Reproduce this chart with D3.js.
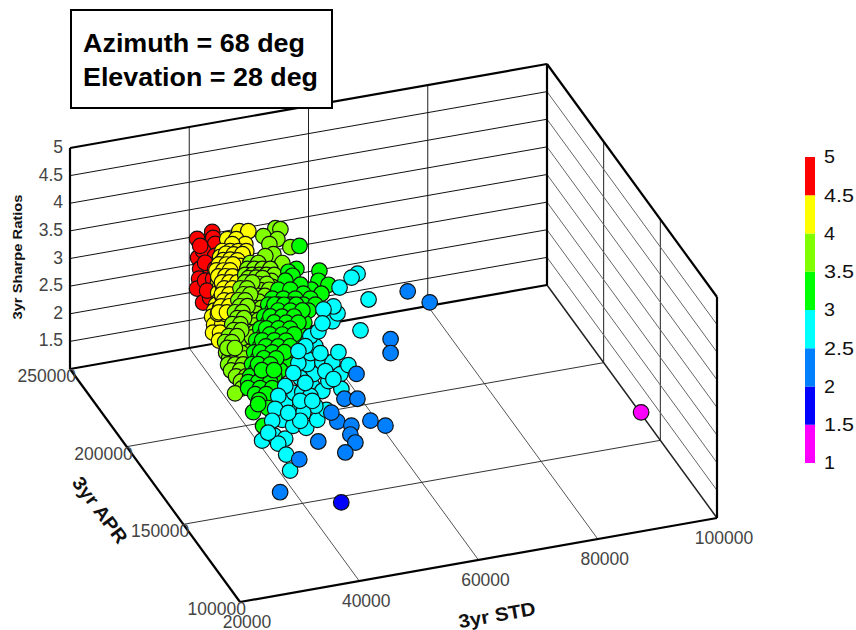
<!DOCTYPE html>
<html>
<head>
<meta charset="utf-8">
<script src="https://cdn.jsdelivr.net/npm/d3@7"></script>
<style>
  html,body{margin:0;padding:0;background:#fff;}
  text{font-family:"Liberation Sans",Arial,sans-serif;}
</style>
</head>
<body>
<div id="canvas"></div>
<script>
//axis ticks
var stdTicks = [20000,40000,60000,80000,100000];
var aprTicks = [100000,150000,200000,250000];
var sharpeTicks = [1,1.5,2,2.5,3,3.5,4,4.5,5];
var colorSteps = [1.5,2,2.5,3,3.5,4,4.5];
var colorList = ['#ff00ff','#0000ff','#0080ff','#00ffff','#00ff00','#80ff00','#ffff00','#ff0000'];

//values, one set per colour band
var redSharpe = 4.6;
var redStd = [31440,34430,33930,33580,29530,31040,28640,27410,26040,25420,30240,27000,28090,32280,30040,29500,27310,31130,30880];
var redApr = [197980,200430,196930,193320,187100,190560,180650,175080,169610,161060,180210,163190,173340,186510,183550,173660,167460,193700,179140];

var yellowSharpe = 4.2;
var yellowStd = [40930,42270,38280,39620,40420,38480,36240,37430,38620,39810,35290,36190,37380,38720,34940,35980,37020,38220,33850,34890,35930,37120,33500,34540,35590,36770,32410,33450,34490,35680,32050,33100,34290,35330,31110,32150,33190,34380,30750,31800,32990,29520,30710,31900,28560,29750,30940,27620,28810,30000,27050,28240,26030,27070,27250,26060,
  36500,37600,38900,35400,36500,37500,35200,36100,37300,34000,35200,36100,33600,34800,35700,32700,33600,34800,32200,33400,34400,31400,32300,33500,30900,32100,33100,29800,30900,32100,28800,29900,31200,
  34300,35400,36400,33300,34300,35300,32900,34000,35000,32800,33900,35100,32500,33700,31500,32600,31200,32400,30100,31300,29100,30300];
var yellowApr = [210740,209830,207420,206500,202750,204070,201120,200310,199500,198690,197930,197320,196510,195600,194310,193600,192900,192080,191220,190510,189800,188990,187600,186900,186190,185380,184500,183790,183080,182270,180900,180190,179380,178670,177690,176980,176270,175460,174090,173380,172570,171080,170270,169460,167880,167070,166260,164690,163880,163070,159940,159130,155500,154800,149550,150360,
  199200,198100,197300,195800,195400,194300,192400,191400,190900,189100,188600,187600,185400,185000,184000,182500,181600,181100,178800,178200,177200,175700,174800,174300,171900,171400,170400,169100,168100,167500,165800,164900,164300,
  193800,193000,192400,190700,189900,189300,187000,186400,185600,183200,182500,181700,179600,178800,176400,175700,172800,172000,169700,168900,166500,165700];

var limeSharpe = 3.75;
var limeStd = [49310,49950,46670,48420,46690,49490,46200,44790,46570,41810,43000,40720,41760,42950,44140,39770,40810,41850,42890,44080,39560,40610,41800,42990,38170,39210,40250,41440,42490,37980,39020,40210,41250,36580,37620,38670,39860,36230,37270,38460,34840,35880,36920,38110,34480,35530,36720,33090,34280,35320,32740,33780,34970,31350,32540,33730,30110,31150,32340,29760,30950,32140,28510,29550,30740,28310,29500,30540,27510,28550,29740,27300,28640,27400,28890,27550,28690,27000,25420,
  39900,41100,42000,39800,40800,42000,38300,39500,40400,41700,38100,39300,40400,36800,37800,38900,36400,37500,38600,35100,36000,37200,34600,35800,36900,33300,34400,35600,32900,34000,35100,31600,32700,34000,
  38900,40000,37600,38600,37400,38400,36000,37000,35600,36700,34200,35300,33900,34900,32500,33700,32100,33200,30700,31900,29500,30500,29200,30300];
var limeApr = [222980,221910,219670,216540,214510,210680,208430,208110,202420,205660,204850,202560,201850,201040,200230,199360,198650,197940,197230,196420,195650,194940,194130,193320,192750,192040,191330,190520,189810,189040,188330,187520,186810,186140,185440,184730,183920,182530,181820,181010,179640,178930,178220,177410,176030,175320,174510,173130,172320,171610,169530,168820,168010,166630,165820,165010,163630,162920,162110,160020,159210,158400,157020,156310,155500,153310,152500,151790,150010,149300,148490,146300,145390,142390,141380,138880,137660,134970,132850,
  197200,196700,195800,193700,192800,192100,190600,190000,189200,188500,186900,186300,185400,184100,183300,182700,180400,179800,178900,177600,176800,176200,173900,173300,172400,171100,170200,169600,167400,166800,165900,164600,163700,163000,
  195100,194400,192200,191500,188500,187800,185600,184900,182000,181300,179100,178400,175500,174800,172600,171800,169000,168300,166100,165300,163100,162400,159500,158700];

var greenSharpe = 3.25;
var greenStd = [53970,51030,49520,54240,53010,54060,50990,52050,49690,48100,49900,46080,47870,49370,44220,45860,47640,49870,42970,44460,46250,48180,49970,42920,44710,46490,48280,41080,42860,44650,46440,41020,42810,44600,46380,39190,40980,42770,44550,39140,40920,42710,44500,37300,39080,40870,42660,37240,39030,40820,42600,35700,37490,39270,41060,35650,37430,39220,41000,34100,35890,37670,39460,34060,35840,37630,32520,34300,36090,31570,33060,34840,30920,32700,34490,31310,32950,31260,31730,29070,29040,30680,
  43900,45300,47100,43800,45600,47400,42000,43700,45500,41900,43700,45500,40100,41900,43600,40000,41800,43600,38200,40000,41700,38100,39900,41700,36600,38400,40200,36500,38300,35000,36800,34900,36700];
var greenApr = [226230,213480,212590,210070,204440,201160,200050,196770,209910,207780,203990,203390,202180,198590,198890,197780,196560,195040,195890,194870,193660,192340,191120,192080,190860,189650,188430,189490,188280,187060,185840,185680,184460,183240,182030,183090,181870,180650,179440,179270,178060,176840,175620,176680,175470,174250,173030,172870,171650,170430,169220,170070,168860,167640,166430,166260,165040,163830,162610,163470,162250,161030,159820,159660,158450,157230,156860,155640,154430,153660,152650,151430,150250,149040,147820,146140,145030,142330,136890,136130,127170,140180,
  195300,194200,193000,191500,190200,189100,188900,187600,186500,185100,183800,182600,182500,181300,180000,178700,177400,176300,176100,174900,173600,172300,171000,169900,169500,168200,167100,165700,164400,162900,161600,159100,157900];

var cyanSharpe = 2.75;
var cyanStd = [62600,61270,58410,61420,56880,53690,55300,55460,53650,30300,32630,33940,32360,32360,31220,35550,36530,38250,40760,43180,41970,39430,38470,37830,40250,41550,43690,44630,45130,42770,45320,47770,49260,49150,47680,51310,51230,46960,48460,48790,50520,51980,46970,44090,42260,39670,37550,35690,33950,32060,38120,42310,40280,46610,47240,42070,37200,47570,42970,48440,45390];
var cyanApr = [220350,218690,214230,204490,187710,195650,199680,204060,203370,134650,136270,133460,131330,124280,114790,144540,140020,137570,141000,145760,149140,146390,152810,153880,158650,158400,160790,156940,167500,166550,173780,173400,172390,164770,156160,169060,177450,179720,183190,189370,191390,195530,184200,175260,170100,163530,158570,151490,144990,138580,142150,155320,153500,162010,167990,152280,147910,162640,163210,178710,182070];

var blueSharpe = 2.25;
var blueStd = [30380,54560,50070,52000,51560,53250,46540,48190,47070,46950,44380,41550,36780,63400,61890,46620,71120,73200];
var blueApr = [119210,179030,166060,164750,150950,146590,153720,150030,145030,139980,135320,144300,136010,195450,187500,159440,220960,212490];

var navySharpe = 1.75;
var navyStd = [41360];
var navyApr = [123020];

var pinkSharpe = 1.25;
var pinkStd = [98680];
var pinkApr = [160020];

var bands = [
  {sharpe:redSharpe, std:redStd, apr:redApr},
  {sharpe:yellowSharpe, std:yellowStd, apr:yellowApr},
  {sharpe:limeSharpe, std:limeStd, apr:limeApr},
  {sharpe:greenSharpe, std:greenStd, apr:greenApr},
  {sharpe:cyanSharpe, std:cyanStd, apr:cyanApr},
  {sharpe:blueSharpe, std:blueStd, apr:blueApr},
  {sharpe:navySharpe, std:navyStd, apr:navyApr},
  {sharpe:pinkSharpe, std:pinkStd, apr:pinkApr}
];

var points = [];
bands.forEach(function(b){
  b.std.forEach(function(s,i){
    points.push({std:s, apr:b.apr[i], sharpe:b.sharpe});
  });
});

var svg = d3.select('#canvas')
  .append('svg')
  .attr('width',856)
  .attr('height',630)
  .style('display','block');

//oblique box: each scale gives the pixel shift along one edge of the box
var stdX = d3.scaleLinear().domain([20000,100000]).range([0,477]),
    stdY = d3.scaleLinear().domain([20000,100000]).range([0,-84]),
    aprX = d3.scaleLinear().domain([100000,250000]).range([0,-170]),
    aprY = d3.scaleLinear().domain([100000,250000]).range([0,-233]),
    sharpeY = d3.scaleLinear().domain([1,5]).range([0,-221]);
var origin = {x:240,y:602};

function project(std,apr,sharpe){
  return [origin.x + stdX(std) + aprX(apr),
          origin.y + stdY(std) + aprY(apr) + sharpeY(sharpe)];
}

function edge(a,b,color,width){
  svg.append('line')
    .attr('x1',a[0]).attr('y1',a[1])
    .attr('x2',b[0]).attr('y2',b[1])
    .attr('stroke',color)
    .attr('stroke-width',width);
}

var s0 = 20000, s1 = 100000, a0 = 100000, a1 = 250000, z0 = 1, z1 = 5;

//grid on floor
stdTicks.slice(1,-1).forEach(function(t){
  edge(project(t,a0,z0),project(t,a1,z0),'#555',1);
});
aprTicks.slice(1,-1).forEach(function(t){
  edge(project(s0,t,z0),project(s1,t,z0),'#333',1);
});
//grid on back wall and right wall
stdTicks.slice(1,-1).forEach(function(t){
  edge(project(t,a1,z0),project(t,a1,z1),'#222',1);
});
aprTicks.slice(1,-1).forEach(function(t){
  edge(project(s1,t,z0),project(s1,t,z1),'#222',1);
});
sharpeTicks.slice(1,-1).forEach(function(t){
  edge(project(s0,a1,t),project(s1,a1,t),'#111',1);
  edge(project(s1,a1,t),project(s1,a0,t),'#666',1);
});

//box edges
edge(project(s1,a1,z0),project(s1,a0,z0),'#222',1.5);
edge(project(s1,a1,z0),project(s1,a1,z1),'#000',2.2);
edge(project(s0,a1,z0),project(s1,a1,z0),'#000',2.2);
edge(project(s0,a1,z1),project(s1,a1,z1),'#000',2.2);
edge(project(s0,a1,z0),project(s0,a1,z1),'#000',2.2);
edge(project(s1,a1,z1),project(s1,a0,z1),'#000',2.2);
edge(project(s1,a0,z0),project(s1,a0,z1),'#000',2.2);
edge(project(s0,a0,z0),project(s1,a0,z0),'#000',2.2);
edge(project(s0,a0,z0),project(s0,a1,z0),'#000',2.2);

//points
var color = d3.scaleThreshold().domain(colorSteps).range(colorList);

svg.selectAll('.dot')
  .data(points)
  .enter()
  .append('circle')
  .attr('class','dot')
  .attr('cx',function(d){return project(d.std,d.apr,d.sharpe)[0];})
  .attr('cy',function(d){return project(d.std,d.apr,d.sharpe)[1];})
  .attr('r',7.8)
  .attr('fill',function(d){return color(d.sharpe);})
  .attr('stroke','#111')
  .attr('stroke-width',1.2);

//tick labels
function tickLabels(data,pos,anchor,dx,dy){
  svg.selectAll(null)
    .data(data)
    .enter()
    .append('text')
    .attr('x',function(d){return pos(d)[0]+dx;})
    .attr('y',function(d){return pos(d)[1]+dy;})
    .attr('text-anchor',anchor)
    .attr('dominant-baseline','central')
    .attr('font-size',17.5)
    .attr('fill','#444')
    .text(function(d){return d;});
}
tickLabels(stdTicks,function(t){return project(t,a0,z0);},'middle',7,20);
tickLabels(aprTicks,function(t){return project(s0,t,z0);},'end',6,7);
tickLabels(sharpeTicks.slice(1),function(t){return project(s0,a1,t);},'end',-7,-1);

//axis titles
function title(txt,x,y,angle,size,len){
  svg.append('text')
    .attr('transform','translate('+x+','+y+') rotate('+angle+')')
    .attr('text-anchor','middle')
    .attr('dominant-baseline','central')
    .attr('font-size',size)
    .attr('font-weight','bold')
    .attr('fill','#111')
    .attr('textLength',len)
    .attr('lengthAdjust','spacingAndGlyphs')
    .text(txt);
}
title('3yr STD',497,615,-10,19,78);
title('3yr APR',100,510,53,19,78);
title('3yr Sharpe Ratios',17,257,-90,13,125);

//colour bar
var legendScale = d3.scaleLinear().domain([1,5]).range([463,157]);

svg.selectAll('.swatch')
  .data(colorList)
  .enter()
  .append('rect')
  .attr('class','swatch')
  .attr('x',805)
  .attr('width',10)
  .attr('y',function(d,i){return legendScale(1 + (i+1)*0.5);})
  .attr('height',function(d,i){return legendScale(1 + i*0.5) - legendScale(1 + (i+1)*0.5);})
  .attr('fill',function(d){return d;});

var legendAxis = d3.axisRight(legendScale)
  .tickValues(sharpeTicks)
  .tickFormat(function(d){return d;})
  .tickSize(0)
  .tickPadding(9);

svg.append('g')
  .attr('class','legendAxis')
  .attr('transform','translate(815,0)')
  .call(legendAxis)
  .call(function(g){g.select('.domain').remove();})
  .selectAll('text')
  .attr('font-size',18)
  .attr('font-family','"Liberation Sans",Arial,sans-serif')
  .attr('fill','#111')
  .attr('textLength',function(d){return d % 1 ? 30 : 11;})
  .attr('lengthAdjust','spacingAndGlyphs');

//annotation box
svg.append('rect')
  .attr('x',71)
  .attr('y',10)
  .attr('width',261)
  .attr('height',98)
  .attr('fill','#fff')
  .attr('stroke','#000')
  .attr('stroke-width',2);

var noteLines = ['Azimuth = 68 deg','Elevation = 28 deg'];
var noteWidths = [222,235];

svg.selectAll('.note')
  .data(noteLines)
  .enter()
  .append('text')
  .attr('class','note')
  .attr('x',83)
  .attr('y',function(d,i){return 52 + i*34;})
  .attr('font-size',26)
  .attr('font-weight','bold')
  .attr('fill','#000')
  .attr('textLength',function(d,i){return noteWidths[i];})
  .attr('lengthAdjust','spacingAndGlyphs')
  .text(function(d){return d;});
</script>
</body>
</html>
